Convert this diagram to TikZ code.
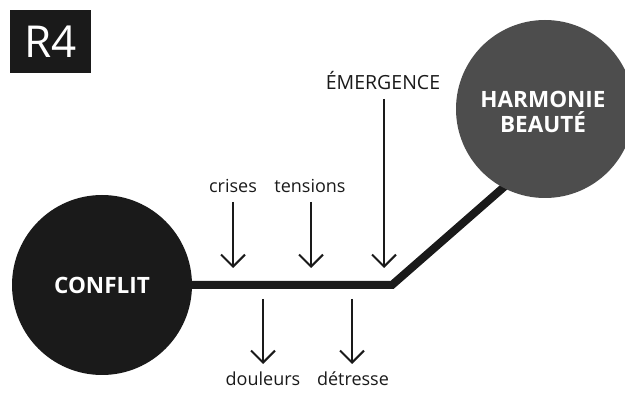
\documentclass[tikz,border=0pt]{standalone}
\usepackage{fontspec}
\setmainfont{Open Sans}
\usetikzlibrary{arrows.meta}
\definecolor{ink}{HTML}{1A1A1A}
\definecolor{slate}{HTML}{4D4D4D}
\tikzset{
  blob/.style={circle, inner sep=0pt, text=white, font=\bfseries\fontsize{22.5}{26}\selectfont, align=center},
  lbl/.style={inner sep=0pt, font=\fontsize{18}{21}\selectfont, text=ink},
  force/.style={draw=ink, line width=2pt, -{Straight Barb[length=12pt,width=24pt,line width=2pt]}},
  path/.style={draw=ink, line width=8pt, line join=miter},
}
\begin{document}
\begin{tikzpicture}[x=1pt,y=-1pt]
\useasboundingbox (0,0) rectangle (625,401);

% title tag
\node[fill=ink, minimum width=81pt, minimum height=63pt, inner sep=0pt, text=white,
      font=\fontsize{44}{48}\selectfont] (tag) at (50.5,41.5) {R4};

% the path from conflict to harmony
\coordinate (bend) at (392,285);
\coordinate (start) at (150,285);
\coordinate (goal) at (552,145);
\draw[path] (start) -- (bend) -- (goal);

% end points
\node[blob, fill=ink, minimum size=180pt] (conflit) at (102,285) {CONFLIT};
\node[blob, fill=slate, minimum size=178pt] (harmonie) at (545,109) {};
\node[blob, align=center] (harmonieText) at (543,112) {HARMONIE\\[-1pt]BEAUTÉ};

% forces from above
\node[lbl] (crises) at (233,186) {crises};
\node[lbl] (tensions) at (310,186) {tensions};
\node[lbl, font=\fontsize{19.5}{22}\selectfont] (emergence) at (383,81) {ÉMERGENCE};
\coordinate (crisesTip) at (233,268);
\coordinate (tensionsTip) at (311,268);
\coordinate (emergenceTip) at (384,268);
\coordinate (crisesTop) at (233,202);
\coordinate (tensionsTop) at (311,202);
\coordinate (emergenceTop) at (384,99);
\draw[force] (crisesTop) -- (crisesTip);
\draw[force] (tensionsTop) -- (tensionsTip);
\draw[force] (emergenceTop) -- (emergenceTip);

% forces from below
\node[lbl] (douleurs) at (263,379) {douleurs};
\node[lbl] (detresse) at (353,379) {détresse};
\coordinate (douleursTop) at (263,299);
\coordinate (detresseTop) at (352,299);
\coordinate (douleursTip) at (263,364);
\coordinate (detresseTip) at (352,364);
\draw[force] (douleursTop) -- (douleursTip);
\draw[force] (detresseTop) -- (detresseTip);
\end{tikzpicture}
\end{document}
